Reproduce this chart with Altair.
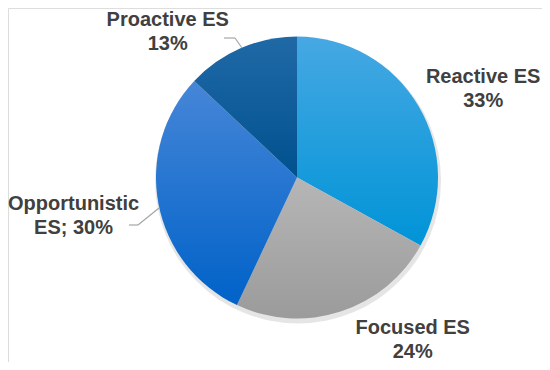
import math
import altair as alt
import pandas as pd

# ---- data ----
categories = ["Reactive ES", "Focused ES", "Opportunistic ES", "Proactive ES"]
shares = [33, 24, 30, 13]
labels = ["Reactive ES\n33%", "Focused ES\n24%", "Opportunistic\nES; 30%", "Proactive ES\n13%"]

df = pd.DataFrame({"cat": categories, "share": shares, "label": labels,
                   "idx": list(range(len(categories)))})

# ---- styling ----
CX, CY = 289, 169.5          # pie centre in plot coords
R = 141
gradients = {
    "Reactive ES": ["#46a8e3", "#0094d7"],
    "Focused ES": ["#b6b6b6", "#9b9b9b"],
    "Opportunistic ES": ["#4686d8", "#0062c8"],
    "Proactive ES": ["#2069a7", "#00518e"],
}
label_pos = {  # radius, dx, dy (dy refers to first line)
    "Reactive ES": (200, 14, 1),
    "Focused ES": (190, 57, -30),
    "Opportunistic ES": (229, 1.5, -16),
    "Proactive ES": (187, -55, 14),
}
theta_scale = alt.Scale(domain=[0, 100], range=[0, 2 * math.pi])

base = (
    alt.Chart(df)
    .transform_window(cum="sum(share)", sort=[alt.SortField("idx")], frame=[None, 0])
    .transform_calculate(start="datum.cum - datum.share",
                         mid="datum.cum - datum.share / 2")
)

layers = []
# soft shadow behind the pie
layers.append(
    alt.Chart(alt.Data(values=[{"k": 1}])).mark_arc(
        radius=R + 2, fill="#000000", opacity=0.10, theta=0, theta2=2 * math.pi)
    .encode(x=alt.value(CX + 1), y=alt.value(CY + 3))
)
for c in categories:
    top, bot = gradients[c]
    layers.append(
        base.transform_filter(alt.datum.cat == c)
        .mark_arc(radius=R,
                  fill=alt.LinearGradient(gradient="linear",
                                          stops=[alt.GradientStop(color=top, offset=0),
                                                 alt.GradientStop(color=bot, offset=1)],
                                          x1=0, x2=0, y1=0, y2=1))
        .encode(theta=alt.Theta("start:Q", scale=theta_scale, stack=None),
                theta2="cum:Q",
                x=alt.value(CX), y=alt.value(CY))
    )

for c in categories:
    r, dx, dy = label_pos[c]
    layers.append(
        base.transform_filter(alt.datum.cat == c)
        .mark_text(radius=r, dx=dx, dy=dy, lineBreak="\n", lineHeight=24,
                   fontSize=20, fontWeight="bold", font="Liberation Sans",
                   color="#404040", align="center", baseline="middle")
        .encode(theta=alt.Theta("mid:Q", scale=theta_scale, stack=None),
                text="label:N",
                x=alt.value(CX), y=alt.value(CY))
    )

one = alt.Data(values=[{"k": 1}])
leaders = [
    (216, 30, 227, 30), (227, 30, 234, 40),
    (121, 217, 130, 217), (130, 217, 151, 200),
]
for x1, y1, x2, y2 in leaders:
    layers.append(
        alt.Chart(one).mark_rule(color="#a6a6a6", strokeWidth=1.2)
        .encode(x=alt.value(x1), y=alt.value(y1), x2=alt.value(x2), y2=alt.value(y2))
    )

chart = (
    alt.layer(*layers)
    .properties(width=534, height=354, padding=0,
                autosize=alt.AutoSizeParams(type="none"))
    .configure_view(stroke=None)
    .configure(background="white")
)

chart.save("out.html", embed_options={"renderer": "svg", "actions": False})
